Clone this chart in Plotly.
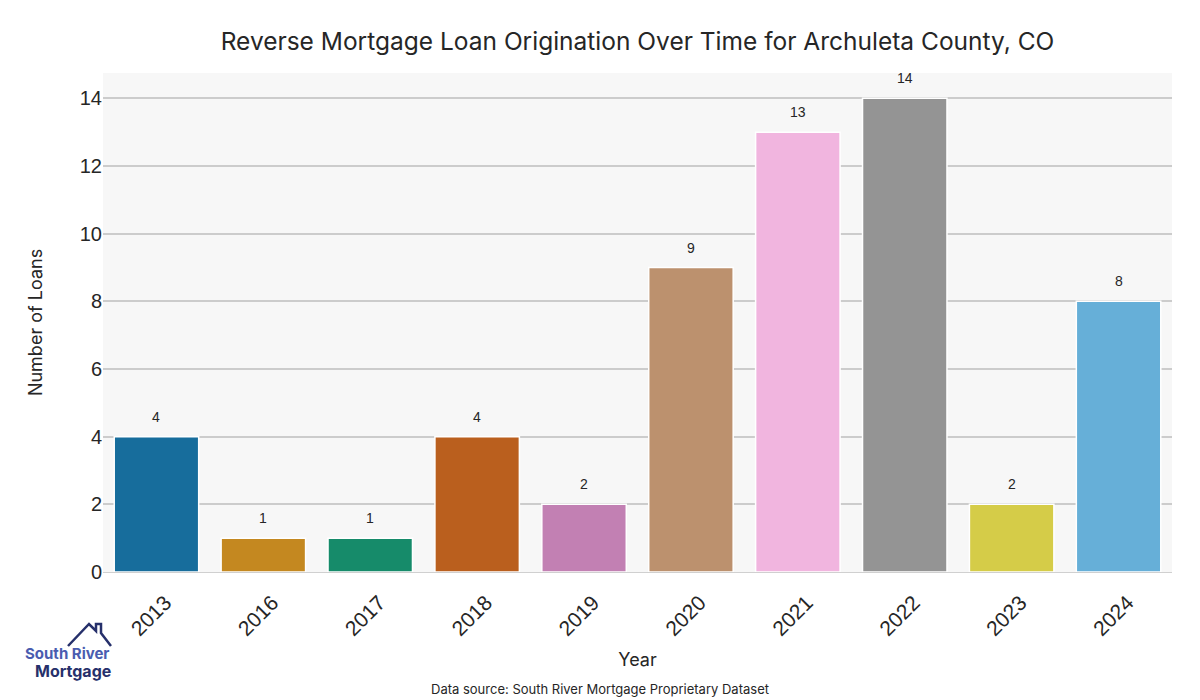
import plotly.graph_objects as go

years = ["2013", "2016", "2017", "2018", "2019", "2020", "2021", "2022", "2023", "2024"]
loans = [4, 1, 1, 4, 2, 9, 13, 14, 2, 8]
colors = ["#176d9c", "#c48820", "#168b6a", "#ba5f1e", "#c280b3",
          "#bc916e", "#f1b5df", "#949494", "#d5cc48", "#66afd8"]
y_ticks = [0, 2, 4, 6, 8, 10, 12, 14]

fig = go.Figure()
fig.add_trace(go.Bar(
    x=years, y=loans,
    marker=dict(color=colors, line=dict(color="white", width=1.5)),
    width=0.79, hoverinfo="skip",
))

# value labels (category axis position = index)
for i, v in enumerate(loans):
    fig.add_annotation(x=i, y=v, xref="x", yref="y", text=str(v), showarrow=False,
                       yanchor="bottom", yshift=10,
                       font=dict(family="Liberation Sans, Arial", size=14, color="#262626"))

# page body has an 8px margin; figure sized so it ends at the window edge
fig.update_layout(
    width=1192, height=692,
    margin=dict(l=95, r=28, t=65, b=128),
    paper_bgcolor="white", plot_bgcolor="#f7f7f7",
    showlegend=False,
    title=dict(text="Reverse Mortgage Loan Origination Over Time for Archuleta County, CO",
               xref="paper", x=0.5, xanchor="center", y=0.952, yanchor="middle",
               font=dict(family="Inter, Lato, sans-serif", size=24.5, color="#262626")),
)
fig.update_xaxes(
    type="category", categoryorder="array", categoryarray=years,
    range=[-0.5, len(years) - 0.5], tickangle=-45, showgrid=False,
    tickfont=dict(family="Liberation Sans, Arial", size=21, color="#262626"),
    ticklabelstandoff=9, ticklabelshift=9,
    title=dict(text="Year", font=dict(family="Inter, Lato, sans-serif", size=18, color="#262626"), standoff=14),
    showline=True, linecolor="#d0d0d0", ticks="", ticklen=0,
)
fig.update_yaxes(
    range=[0, 14.75], tickvals=y_ticks, showgrid=True, gridcolor="#cccccc", gridwidth=1.5,
    zeroline=False,
    tickfont=dict(family="Liberation Sans, Arial", size=20, color="#262626"),
    title=dict(text="Number of Loans", font=dict(family="Inter, Lato, sans-serif", size=18, color="#262626"), standoff=32),
    ticks="", ticklen=0,
)

def px(xp, yp):
    # reference-image pixels -> paper coordinates
    return (xp - 103) / 1069, (572 - yp) / 499

sx, sy = px(600, 689)
fig.add_annotation(text="Data source: South River Mortgage Proprietary Dataset",
                   xref="paper", yref="paper", x=sx, y=sy, showarrow=False,
                   xanchor="center", yanchor="middle",
                   font=dict(family="Inter, Lato, sans-serif", size=13, color="#262626"))

# Logo
lx, ly = px(67, 653)
fig.add_annotation(text="<b>South River</b>", xref="paper", yref="paper",
                   x=lx, y=ly, showarrow=False, xanchor="center", yanchor="middle",
                   borderpad=0,
                   font=dict(family="Inter, Lato, sans-serif", size=15, color="#4a5cb0"))
mx, my = px(73, 671)
fig.add_annotation(text="<b>Mortgage</b>", xref="paper", yref="paper",
                   x=mx, y=my, showarrow=False, xanchor="center", yanchor="middle",
                   borderpad=0,
                   font=dict(family="Inter, Lato, sans-serif", size=16, color="#26306b"))
pts = [(68, 646), (89, 624), (96, 631), (96, 624), (101, 624), (101, 633), (111, 646)]
path = "M " + " L ".join(f"{px(a,b)[0]:.5f},{px(a,b)[1]:.5f}" for a, b in pts)
fig.add_shape(type="path", path=path, xref="paper", yref="paper",
              line=dict(color="#26306b", width=2.5))

fig.write_html("out.html")
